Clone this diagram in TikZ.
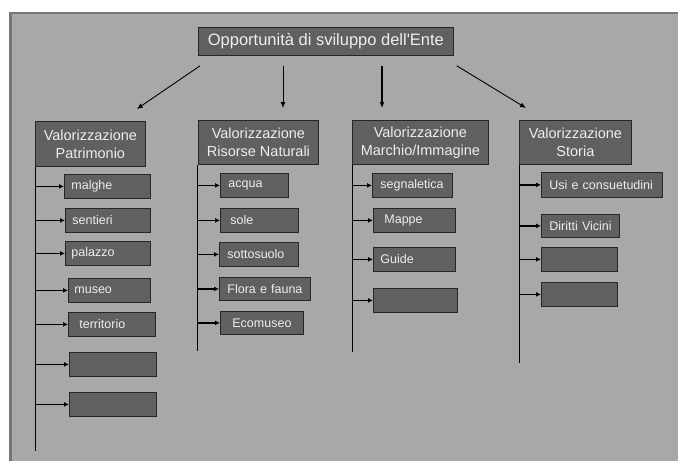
\documentclass[tikz,border=0pt]{standalone}
\usepackage{xcolor}
\usepackage{fontspec}
\setmainfont{Liberation Sans}
\usepackage{tikz}
\usetikzlibrary{arrows.meta, calc}

\definecolor{panelgray}{RGB}{168,168,168}
\definecolor{frameline}{RGB}{118,118,118}
\definecolor{boxfill}{RGB}{96,96,96}
\definecolor{boxline}{RGB}{38,38,38}
\definecolor{boxtext}{RGB}{238,238,238}

\begin{document}
\begin{tikzpicture}[x=1pt, y=-1pt,
    headbox/.style={draw=boxline, line width=0.8pt, fill=boxfill, text=boxtext,
        font=\fontsize{14.5}{18}\selectfont, anchor=north west, align=center, inner sep=0pt},
    itembox/.style={draw=boxline, line width=0.8pt, fill=boxfill, text=boxtext,
        font=\fontsize{12.5}{14}\selectfont, anchor=north west, align=left,
        inner xsep=7pt, inner ysep=0pt, minimum height=24pt},
    topline/.style={-{Latex[length=6pt,width=5pt]}, line width=0.9pt},
    feed/.style={-{Latex[length=5pt,width=5pt]}, line width=1.2pt},
    spine/.style={line width=0.9pt}]

    % Page and grey panel
    \useasboundingbox (0,0) rectangle (678,461);
    \fill[white] (0,0) rectangle (678,461);
    \fill[panelgray] (9,12) rectangle (678,461);
    \draw[frameline, line width=1.5pt] (9,12.75) -- (678,12.75);
    \draw[frameline, line width=2.5pt] (10.25,12) -- (10.25,461);

    % Root
    \node[headbox, minimum width=255pt, minimum height=28pt, font=\fontsize{16.5}{19}\selectfont]
        (ente) at (198,27) {Opportunità di sviluppo dell\textquotesingle Ente};

    % Four headings
    \node[headbox, minimum width=110pt, minimum height=45pt] (pat) at (35,121) {Valorizzazione\\Patrimonio};
    \node[headbox, minimum width=120pt, minimum height=44pt] (ris) at (198,120) {Valorizzazione\\Risorse Naturali};
    \node[headbox, minimum width=136pt, minimum height=44pt] (mar) at (352,120) {Valorizzazione\\Marchio/Immagine};
    \node[headbox, minimum width=112pt, minimum height=44pt] (sto) at (519,120) {Valorizzazione\\Storia};

    % Arrows from the root
    \draw[topline] ([shift={(2,10)}]ente.south west) -- ([shift={(-9,-12)}]pat.north east);
    \draw[topline] ([shift={(85,10)}]ente.south west) -- ([shift={(85,-12)}]ris.north west);
    \draw[topline, line width=1.3pt] ([shift={(184,10)}]ente.south west) -- ([shift={(30,-12)}]mar.north west);
    \draw[topline] ([shift={(3,10)}]ente.south east) -- ([shift={(7,-12)}]sto.north west);

    % Patrimonio items
    \node[itembox, text width=72pt] (p1) at (64,174) {malghe};
    \node[itembox, text width=71pt] (p2) at (65,208) {sentieri};
    \node[itembox, text width=73pt, inner xsep=6pt] (p3) at (65,241) {palazzo};
    \node[itembox, text width=70pt, inner xsep=6pt] (p4) at (68,278) {museo};
    \node[itembox, text width=65pt, inner xsep=11pt] (p5) at (68,312) {territorio};
    \node[itembox, text width=73pt] (p6) at (69,352) {};
    \node[itembox, text width=73pt] (p7) at (69,392) {};

    % Risorse Naturali items
    \node[itembox, text width=52pt, inner xsep=8pt] (r1) at (220,173) {acqua};
    \node[itembox, text width=58pt, inner xsep=10pt] (r2) at (220,208) {sole};
    \node[itembox, text width=63pt, inner xsep=8pt] (r3) at (219,242) {\mbox{sottosuolo}};
    \node[itembox, text width=75pt, inner xsep=8pt, minimum height=23pt] (r4) at (219,277) {\mbox{Flora e fauna}};
    \node[itembox, text width=59pt, inner xsep=12pt, minimum height=23pt] (r5) at (220,311) {Ecomuseo};

    % Marchio/Immagine items
    \node[itembox, text width=64pt, inner xsep=8pt] (m1) at (372,173) {\mbox{segnaletica}};
    \node[itembox, text width=60pt, inner xsep=11pt] (m2) at (373,208) {Mappe};
    \node[itembox, text width=68pt] (m3) at (373,247) {Guide};
    \node[itembox, text width=70pt] (m4) at (373,288) {};

    % Storia items
    \node[itembox, text width=105pt, inner xsep=8pt, minimum height=25pt] (s1) at (541,172) {\mbox{Usi e consuetudini}};
    \node[itembox, text width=62pt, inner xsep=8pt, minimum height=23pt] (s2) at (541,214) {\mbox{Diritti Vicini}};
    \node[itembox, text width=62pt] (s3) at (541,247) {};
    \node[itembox, text width=62pt] (s4) at (541,282) {};

    % Spines
    \coordinate (patEnd) at (35,451);
    \coordinate (risEnd) at (197,351);
    \coordinate (marEnd) at (352,352);
    \coordinate (stoEnd) at (519,363);
    \draw[spine] (pat.south west) -- (patEnd);
    \draw[spine] (ris.south west -| risEnd) -- (risEnd);
    \draw[spine] (mar.south west) -- (marEnd);
    \draw[spine] (sto.south west) -- (stoEnd);

    % Feeds into the items
    \draw[feed] (patEnd |- p1.west) -- (p1.west);
    \draw[feed] (patEnd |- p2.west) -- (p2.west);
    \draw[feed] (patEnd |- p3.west) -- (p3.west);
    \draw[feed] (patEnd |- p4.west) -- (p4.west);
    \draw[feed] (patEnd |- p5.west) -- (p5.west);
    \draw[feed] (patEnd |- p6.west) -- (p6.west);
    \draw[feed] (patEnd |- p7.west) -- (p7.west);

    \draw[feed] (risEnd |- r1.west) -- (r1.west);
    \draw[feed] (risEnd |- r2.west) -- (r2.west);
    \draw[feed] (risEnd |- r3.west) -- (r3.west);
    \draw[feed] (risEnd |- r4.west) -- (r4.west);
    \draw[feed] (risEnd |- r5.west) -- (r5.west);

    \draw[feed] (marEnd |- m1.west) -- (m1.west);
    \draw[feed] (marEnd |- m2.west) -- (m2.west);
    \draw[feed] (marEnd |- m3.west) -- (m3.west);
    \draw[feed] (marEnd |- m4.west) -- (m4.west);

    \draw[feed] (stoEnd |- s1.west) -- (s1.west);
    \draw[feed] (stoEnd |- s2.west) -- (s2.west);
    \draw[feed] (stoEnd |- s3.west) -- (s3.west);
    \draw[feed] (stoEnd |- s4.west) -- (s4.west);
\end{tikzpicture}
\end{document}
